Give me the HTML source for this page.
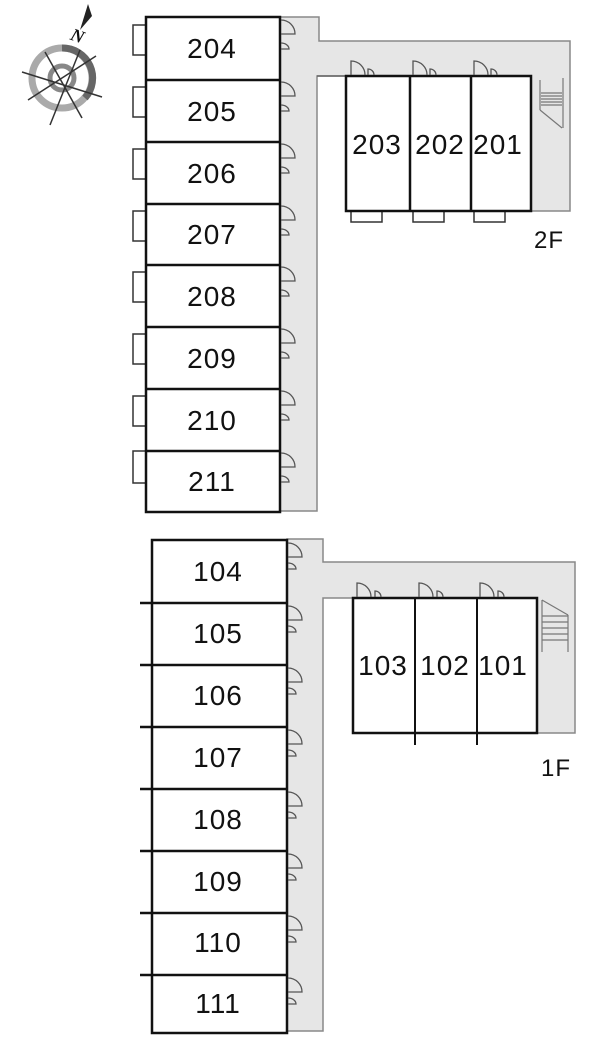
<!DOCTYPE html>
<html><head><meta charset="utf-8"><style>
html,body{margin:0;padding:0;background:#fff;}
svg{display:block;}
text{font-family:"Liberation Sans",sans-serif;font-size:28px;letter-spacing:1px;fill:#111;text-anchor:middle;}
</style></head><body>
<svg width="608" height="1042" viewBox="0 0 608 1042" xmlns="http://www.w3.org/2000/svg">
<!-- compass -->
<g stroke="#333" fill="none">
<circle cx="62" cy="78" r="30" stroke="#aaa" stroke-width="7"/>
<path d="M62,48 A30,30 0 0 1 85,98" stroke="#666" stroke-width="7"/>
<circle cx="62" cy="78" r="12" stroke="#888" stroke-width="5"/>
<line x1="50" y1="125" x2="80" y2="50" stroke-width="1.5"/>
<line x1="22" y1="72" x2="102" y2="97" stroke-width="1.5"/>
<line x1="28" y1="100" x2="96" y2="56" stroke-width="1.5"/>
<line x1="45" y1="52" x2="82" y2="118" stroke-width="1.5"/>
</g>
<path d="M80,30 L88,4 L92,16 Z" fill="#222"/>
<text x="78" y="42" style="font-size:18px;font-style:italic;font-weight:bold;font-family:'Liberation Serif',serif" transform="rotate(20 78 36)">N</text>

<!-- 2F corridor -->
<path d="M280,17 H319 V41 H570 V211 H531 V76 H317 V511 H280 Z" fill="#e6e6e6" stroke="#888" stroke-width="1.5"/>
<line x1="317" y1="76" x2="346" y2="76" stroke="#666" stroke-width="1.5"/>
<g stroke="#777" stroke-width="1.2">
<line x1="540" y1="80" x2="540" y2="110"/><line x1="563" y1="78" x2="563" y2="128"/>
<line x1="541" y1="93" x2="562" y2="93"/><line x1="541" y1="96" x2="562" y2="96"/><line x1="541" y1="99" x2="562" y2="99"/><line x1="541" y1="102" x2="562" y2="102"/><line x1="541" y1="105" x2="562" y2="105"/><line x1="540" y1="110" x2="562" y2="128"/>
</g>
<g fill="#fff" stroke="#333" stroke-width="1.5">
<rect x="133" y="25" width="13" height="30"/><rect x="133" y="87" width="13" height="30"/><rect x="133" y="149" width="13" height="30"/><rect x="133" y="211" width="13" height="30"/><rect x="133" y="272" width="13" height="30"/><rect x="133" y="334" width="13" height="30"/><rect x="133" y="396" width="13" height="30"/><rect x="133" y="451" width="13" height="32"/>
</g>
<rect x="146" y="17" width="134" height="495" fill="#fff" stroke="#111" stroke-width="2.5"/>
<g stroke="#111" stroke-width="2.5">
<line x1="146" y1="80" x2="280" y2="80"/><line x1="146" y1="142" x2="280" y2="142"/><line x1="146" y1="204" x2="280" y2="204"/><line x1="146" y1="265" x2="280" y2="265"/><line x1="146" y1="327" x2="280" y2="327"/><line x1="146" y1="389" x2="280" y2="389"/><line x1="146" y1="451" x2="280" y2="451"/>
</g>
<g fill="none" stroke="#555" stroke-width="1.3">
<path d="M281,20 a14,14 0 0 1 14,14 H281 M281,43 a8,6 0 0 1 8,6 H281"/>
<path d="M281,82 a14,14 0 0 1 14,14 H281 M281,105 a8,6 0 0 1 8,6 H281"/>
<path d="M281,144 a14,14 0 0 1 14,14 H281 M281,167 a8,6 0 0 1 8,6 H281"/>
<path d="M281,206 a14,14 0 0 1 14,14 H281 M281,229 a8,6 0 0 1 8,6 H281"/>
<path d="M281,267 a14,14 0 0 1 14,14 H281 M281,290 a8,6 0 0 1 8,6 H281"/>
<path d="M281,329 a14,14 0 0 1 14,14 H281 M281,352 a8,6 0 0 1 8,6 H281"/>
<path d="M281,391 a14,14 0 0 1 14,14 H281 M281,414 a8,6 0 0 1 8,6 H281"/>
<path d="M281,453 a14,14 0 0 1 14,14 H281 M281,476 a8,6 0 0 1 8,6 H281"/>
</g>
<text x="212" y="58">204</text><text x="212" y="121">205</text><text x="212" y="183">206</text><text x="212" y="244">207</text><text x="212" y="306">208</text><text x="212" y="368">209</text><text x="212" y="430">210</text><text x="212" y="491">211</text>
<g fill="#fff" stroke="#333" stroke-width="1.5">
<rect x="351" y="211" width="31" height="11"/><rect x="413" y="211" width="31" height="11"/><rect x="474" y="211" width="31" height="11"/>
</g>
<rect x="346" y="76" width="185" height="135" fill="#fff" stroke="#111" stroke-width="2.5"/>
<line x1="410" y1="76" x2="410" y2="211" stroke="#111" stroke-width="2.5"/>
<line x1="471" y1="76" x2="471" y2="211" stroke="#111" stroke-width="2.5"/>
<g fill="none" stroke="#555" stroke-width="1.3">
<path d="M351,75 V61 a14,14 0 0 1 14,14 M368,75 V69 a6,6 0 0 1 6,6"/>
<path d="M413,75 V61 a14,14 0 0 1 14,14 M430,75 V69 a6,6 0 0 1 6,6"/>
<path d="M474,75 V61 a14,14 0 0 1 14,14 M491,75 V69 a6,6 0 0 1 6,6"/>
</g>
<text x="377" y="154">203</text><text x="440" y="154">202</text><text x="498" y="154">201</text>
<text x="549" y="248" style="font-size:24px">2F</text>

<!-- 1F corridor -->
<path d="M287,539 H323 V562 H575 V733 H537 V598 H323 V1031 H287 Z" fill="#e6e6e6" stroke="#888" stroke-width="1.5"/>
<g stroke="#777" stroke-width="1.2" fill="none">
<line x1="542" y1="600" x2="542" y2="652"/><line x1="568" y1="615" x2="568" y2="652"/>
<path d="M542,600 L568,615"/>
<line x1="542" y1="616" x2="568" y2="616"/><line x1="542" y1="622" x2="568" y2="622"/><line x1="542" y1="628" x2="568" y2="628"/><line x1="542" y1="634" x2="568" y2="634"/><line x1="542" y1="640" x2="568" y2="640"/>
</g>
<rect x="152" y="540" width="135" height="493" fill="#fff" stroke="#111" stroke-width="2.5"/>
<g stroke="#111" stroke-width="2.5">
<line x1="140" y1="603" x2="287" y2="603"/><line x1="140" y1="665" x2="287" y2="665"/><line x1="140" y1="727" x2="287" y2="727"/><line x1="140" y1="789" x2="287" y2="789"/><line x1="140" y1="851" x2="287" y2="851"/><line x1="140" y1="913" x2="287" y2="913"/><line x1="140" y1="975" x2="287" y2="975"/>
</g>
<g fill="none" stroke="#555" stroke-width="1.3">
<path d="M288,543 a14,14 0 0 1 14,14 H288 M288,563 a8,6 0 0 1 8,6 H288"/>
<path d="M288,606 a14,14 0 0 1 14,14 H288 M288,626 a8,6 0 0 1 8,6 H288"/>
<path d="M288,668 a14,14 0 0 1 14,14 H288 M288,688 a8,6 0 0 1 8,6 H288"/>
<path d="M288,730 a14,14 0 0 1 14,14 H288 M288,750 a8,6 0 0 1 8,6 H288"/>
<path d="M288,792 a14,14 0 0 1 14,14 H288 M288,812 a8,6 0 0 1 8,6 H288"/>
<path d="M288,854 a14,14 0 0 1 14,14 H288 M288,874 a8,6 0 0 1 8,6 H288"/>
<path d="M288,916 a14,14 0 0 1 14,14 H288 M288,936 a8,6 0 0 1 8,6 H288"/>
<path d="M288,978 a14,14 0 0 1 14,14 H288 M288,998 a8,6 0 0 1 8,6 H288"/>
</g>
<text x="218" y="581">104</text><text x="218" y="643">105</text><text x="218" y="705">106</text><text x="218" y="767">107</text><text x="218" y="829">108</text><text x="218" y="891">109</text><text x="218" y="952">110</text><text x="218" y="1013">111</text>
<rect x="353" y="598" width="184" height="135" fill="#fff" stroke="#111" stroke-width="2.5"/>
<line x1="415" y1="598" x2="415" y2="745" stroke="#111" stroke-width="2"/>
<line x1="477" y1="598" x2="477" y2="745" stroke="#111" stroke-width="2"/>
<g fill="none" stroke="#555" stroke-width="1.3">
<path d="M357,597 V583 a14,14 0 0 1 14,14 M375,597 V591 a6,6 0 0 1 6,6"/>
<path d="M419,597 V583 a14,14 0 0 1 14,14 M437,597 V591 a6,6 0 0 1 6,6"/>
<path d="M480,597 V583 a14,14 0 0 1 14,14 M498,597 V591 a6,6 0 0 1 6,6"/>
</g>
<text x="383" y="675">103</text><text x="445" y="675">102</text><text x="503" y="675">101</text>
<text x="556" y="776" style="font-size:24px">1F</text>
</svg>
</body></html>
